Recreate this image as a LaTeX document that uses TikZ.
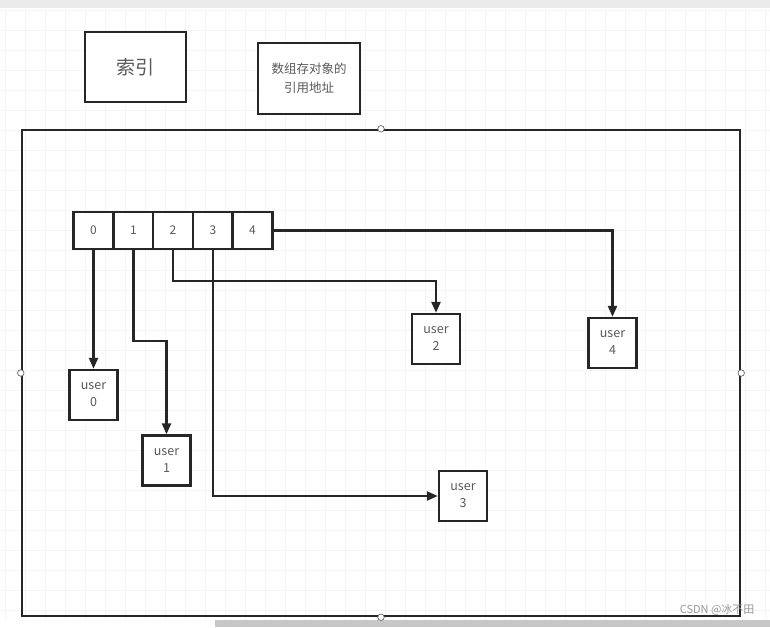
\documentclass[tikz,border=0pt]{standalone}
\usepackage{fontspec}
\setmainfont{Noto Sans CJK SC}
\usetikzlibrary{arrows.meta}
\begin{document}
\begin{tikzpicture}[x=1pt,y=-1pt,
  box/.style={draw=black!85,line width=2.4pt,fill=white,inner sep=0pt,align=center,text=black!65},
  cell/.style={box,minimum width=40pt,minimum height=37pt,font=\fontsize{12}{14}\selectfont},
  user/.style={box,minimum width=48pt,minimum height=50pt,font=\fontsize{12.5}{17}\selectfont},
  link/.style={draw=black!85,line width=2.4pt,-{Triangle[length=11pt,width=9pt]}},
  handle/.style={circle,draw=black!60,fill=white,inner sep=0pt,minimum size=6.5pt,line width=0.7pt}]
\useasboundingbox (0,0) rectangle (770,627);
\fill[white] (0,0) rectangle (770,627);
% faint grid
\foreach \gx in {5,25,...,765} \draw[black!4,line width=0.6pt] (\gx,10) -- (\gx,620);
\foreach \gy in {10,30,...,610} \draw[black!4,line width=0.6pt] (0,\gy) -- (770,\gy);
\fill[black!8] (0,0) rectangle (770,8);
\fill[black!22] (215,620) rectangle (770,627);
% top boxes
\node[box,minimum width=101pt,minimum height=70pt,font=\fontsize{19}{22}\selectfont] (idx) at (135.5,67) {索引};
\node[box,minimum width=102pt,minimum height=71pt,font=\fontsize{12.5}{19}\selectfont] (ref) at (309,78.5) {数组存对象的\\引用地址};
% frame
\node[draw=black!85,line width=2.4pt,minimum width=718pt,minimum height=486pt,inner sep=0pt] (frame) at (381,373) {};
\node[handle] (h1) at (frame.north) {};
\node[handle] (h2) at (frame.south) {};
\node[handle] (h3) at (frame.west) {};
\node[handle] (h4) at (frame.east) {};
% array
\node[cell] (c0) at (93.5,230.5) {0};
\node[cell] (c1) at (133.5,230.5) {1};
\node[cell] (c2) at (173,230.5) {2};
\node[cell] (c3) at (213,230.5) {3};
\node[cell] (c4) at (252.5,230.5) {4};
% users
\node[user] (u0) at (93.5,395) {user\\0};
\node[user] (u1) at (166.5,460.5) {user\\1};
\node[user] (u2) at (436,339) {user\\2};
\node[user] (u3) at (463,496) {user\\3};
\node[user] (u4) at (612.5,343) {user\\4};
% connectors
\draw[link] (c0.south) -- (u0.north);
\draw[link] (c1.south) |- (166.5,341) -- (u1.north);
\draw[link] (c2.south) |- (436,281) -- (u2.north);
\draw[link] (c3.south) |- (u3.west);
\draw[link] (c4.east) -| (u4.north);
% watermark
\node[text=black!40,font=\fontsize{11}{13}\selectfont,anchor=east] (wm) at (758,610) {CSDN @冰不田};
\end{tikzpicture}
\end{document}
